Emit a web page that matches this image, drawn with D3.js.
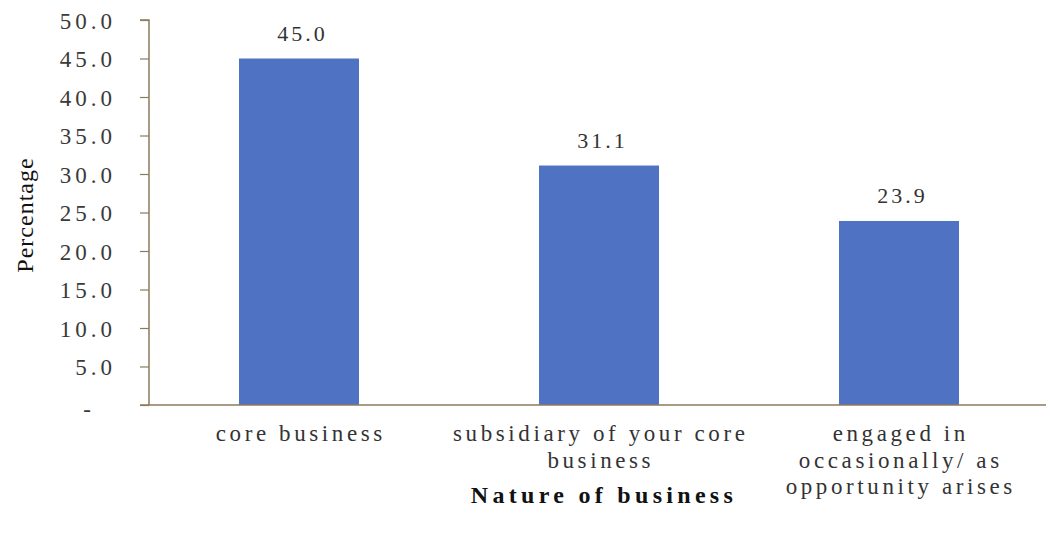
<!DOCTYPE html>
<html><head><meta charset="utf-8">
<script src="https://cdn.jsdelivr.net/npm/d3@7"></script>
<style>body{margin:0;background:#fff;} svg{display:block;}</style>
</head><body>
<svg id="c" width="1051" height="534"></svg>
<script>
const categories = ["core business", "subsidiary of your core business", "engaged in occasionally/ as opportunity arises"];
const categoryLines = [["core business"], ["subsidiary of your core", "business"], ["engaged in", "occasionally/ as", "opportunity arises"]];
const values = [45.0, 31.1, 23.9];
const tickValues = [0, 5, 10, 15, 20, 25, 30, 35, 40, 45, 50];
const tickLabels = ["-", "5.0", "10.0", "15.0", "20.0", "25.0", "30.0", "35.0", "40.0", "45.0", "50.0"];
const yTitle = "Percentage";
const xTitle = "Nature of business";

(function () {
const svg = d3.select("#c");
const mLeft = 149, mRight = 1049, mTop = 20, mBottom = 405;
const axisColor = "#8c7b5c";
const font = "'Liberation Serif', 'DejaVu Serif', serif";

const x = d3.scaleBand().domain(categories).range([mLeft, mRight]).paddingInner(0.6).paddingOuter(0.3);
const y = d3.scaleLinear().domain([0, 50]).range([mBottom, mTop]);

// bars
svg.selectAll("rect.bar").data(values).join("rect")
  .attr("class", "bar")
  .attr("x", (d, i) => x(categories[i]))
  .attr("width", x.bandwidth())
  .attr("y", d => y(d))
  .attr("height", d => y(0) - y(d))
  .attr("fill", "#4f72c3");

// value labels
const vls = 3;
svg.selectAll("text.val").data(values).join("text")
  .attr("class", "val")
  .attr("x", (d, i) => x(categories[i]) + x.bandwidth() / 2 + vls / 2 + 2)
  .attr("y", d => y(d) - 18)
  .attr("text-anchor", "middle")
  .style("font-family", font).style("font-size", "22px").style("letter-spacing", vls + "px")
  .attr("fill", "#333")
  .text(d => d.toFixed(1));

// y axis
const yAxis = d3.axisLeft(y).tickValues(tickValues).tickSize(9).tickPadding(0)
  .tickFormat((d, i) => tickLabels[i]);
const gy = svg.append("g").attr("transform", `translate(${mLeft},0)`).call(yAxis);
gy.select(".domain").attr("d", `M-9,${mTop}H0V${mBottom}`).attr("stroke", axisColor).attr("stroke-width", 1.5);
gy.selectAll(".tick line").attr("stroke", axisColor).attr("stroke-width", 1.2);
gy.selectAll(".tick text")
  .attr("x", -33).attr("dy", "0.35em")
  .style("font-family", font).style("font-size", "23px").style("letter-spacing", "4px")
  .attr("fill", "#3a3a3a");
gy.selectAll(".tick").filter(d => d === 0).select("text").attr("x", -54).attr("dy", "0.5em");

// x axis
const xAxis = d3.axisBottom(x).tickSize(0).tickFormat("");
const gx = svg.append("g").attr("transform", `translate(0,${mBottom})`).call(xAxis);
gx.select(".domain").attr("d", `M140,0H1046`).attr("stroke", axisColor).attr("stroke-width", 1.5);

// category labels
const cls = 3.6;
categoryLines.forEach((lines, i) => {
  const t = svg.append("text")
    .attr("text-anchor", "middle")
    .style("font-family", font).style("font-size", "23px").style("letter-spacing", cls + "px")
    .attr("fill", "#333");
  lines.forEach((ln, j) => {
    t.append("tspan").attr("x", x(categories[i]) + x.bandwidth() / 2 + cls / 2)
      .attr("y", 441 + j * 26.5).text(ln);
  });
});

// axis titles
svg.append("text")
  .attr("transform", `translate(33,215) rotate(-90)`)
  .attr("text-anchor", "middle")
  .style("font-family", font).style("font-size", "24px").style("letter-spacing", "1px")
  .attr("fill", "#111")
  .text(yTitle);

svg.append("text")
  .attr("x", 604).attr("y", 503)
  .attr("text-anchor", "middle")
  .style("font-family", font).style("font-size", "24px").style("font-weight", "bold").style("letter-spacing", "4.3px")
  .attr("fill", "#111")
  .text(xTitle);
})();
</script>
</body></html>
